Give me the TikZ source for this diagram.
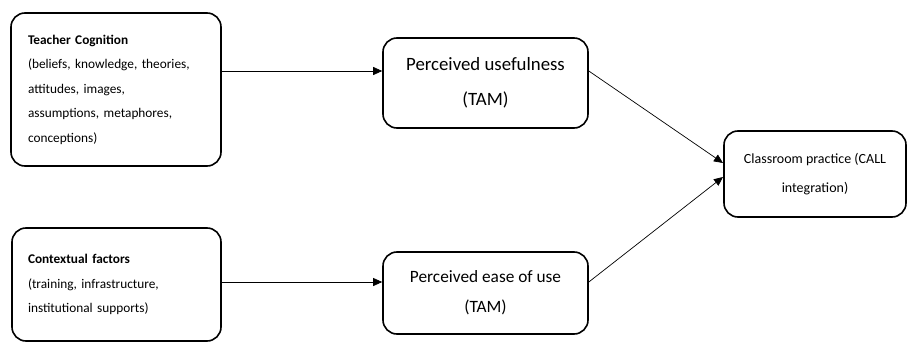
\documentclass[tikz,border=0pt]{standalone}
\usepackage{fontspec}
\setmainfont{Carlito}
\usetikzlibrary{arrows.meta}
\begin{document}
\begin{tikzpicture}[x=1pt,y=-1pt,
  box/.style={draw=black, line width=1.6pt, rounded corners=14pt, inner sep=0pt},
  conn/.style={line width=0.7pt, -{Triangle[length=9pt,width=8pt]}}]
\useasboundingbox (0,0) rectangle (911,343);
\node[box, minimum width=210, minimum height=153, text width=176, align=left,
  font=\fontsize{13.3}{24.5}\selectfont] (b1) at (116,89.5)
  {\textbf{Teacher Cognition}\\(beliefs, knowledge, theories,\\attitudes, images,\\assumptions, metaphores,\\conceptions)};
\node[box, minimum width=209, minimum height=113, text width=177, align=left,
  font=\fontsize{13.3}{24.5}\selectfont] (b2) at (116.5,284.5)
  {\textbf{Contextual factors}\\(training, infrastructure,\\institutional supports)};
\node[box, minimum width=205, minimum height=90, align=center,
  font=\fontsize{18.8}{35}\selectfont] (b3) at (485.5,83)
  {Perceived usefulness\\(TAM)};
\node[box, minimum width=205, minimum height=82, align=center,
  font=\fontsize{17.3}{30}\selectfont] (b4) at (485.5,293)
  {Perceived ease of use\\(TAM)};
\node[box, minimum width=182, minimum height=86, align=center,
  font=\fontsize{14}{29}\selectfont] (b5) at (815,174)
  {Classroom practice (CALL\\integration)};
\coordinate (p1) at (0,71);
\coordinate (p2) at (0,282);
\coordinate (q1) at (723,163);
\coordinate (q2) at (723,177);
\draw[conn] (b1.east |- p1) -- (b3.west |- p1);
\draw[conn] (b2.east |- p2) -- (b4.west |- p2);
\draw[conn] (b3.east |- p1) -- (q1);
\draw[conn] (b4.east |- p2) -- (q2);
\end{tikzpicture}
\end{document}
